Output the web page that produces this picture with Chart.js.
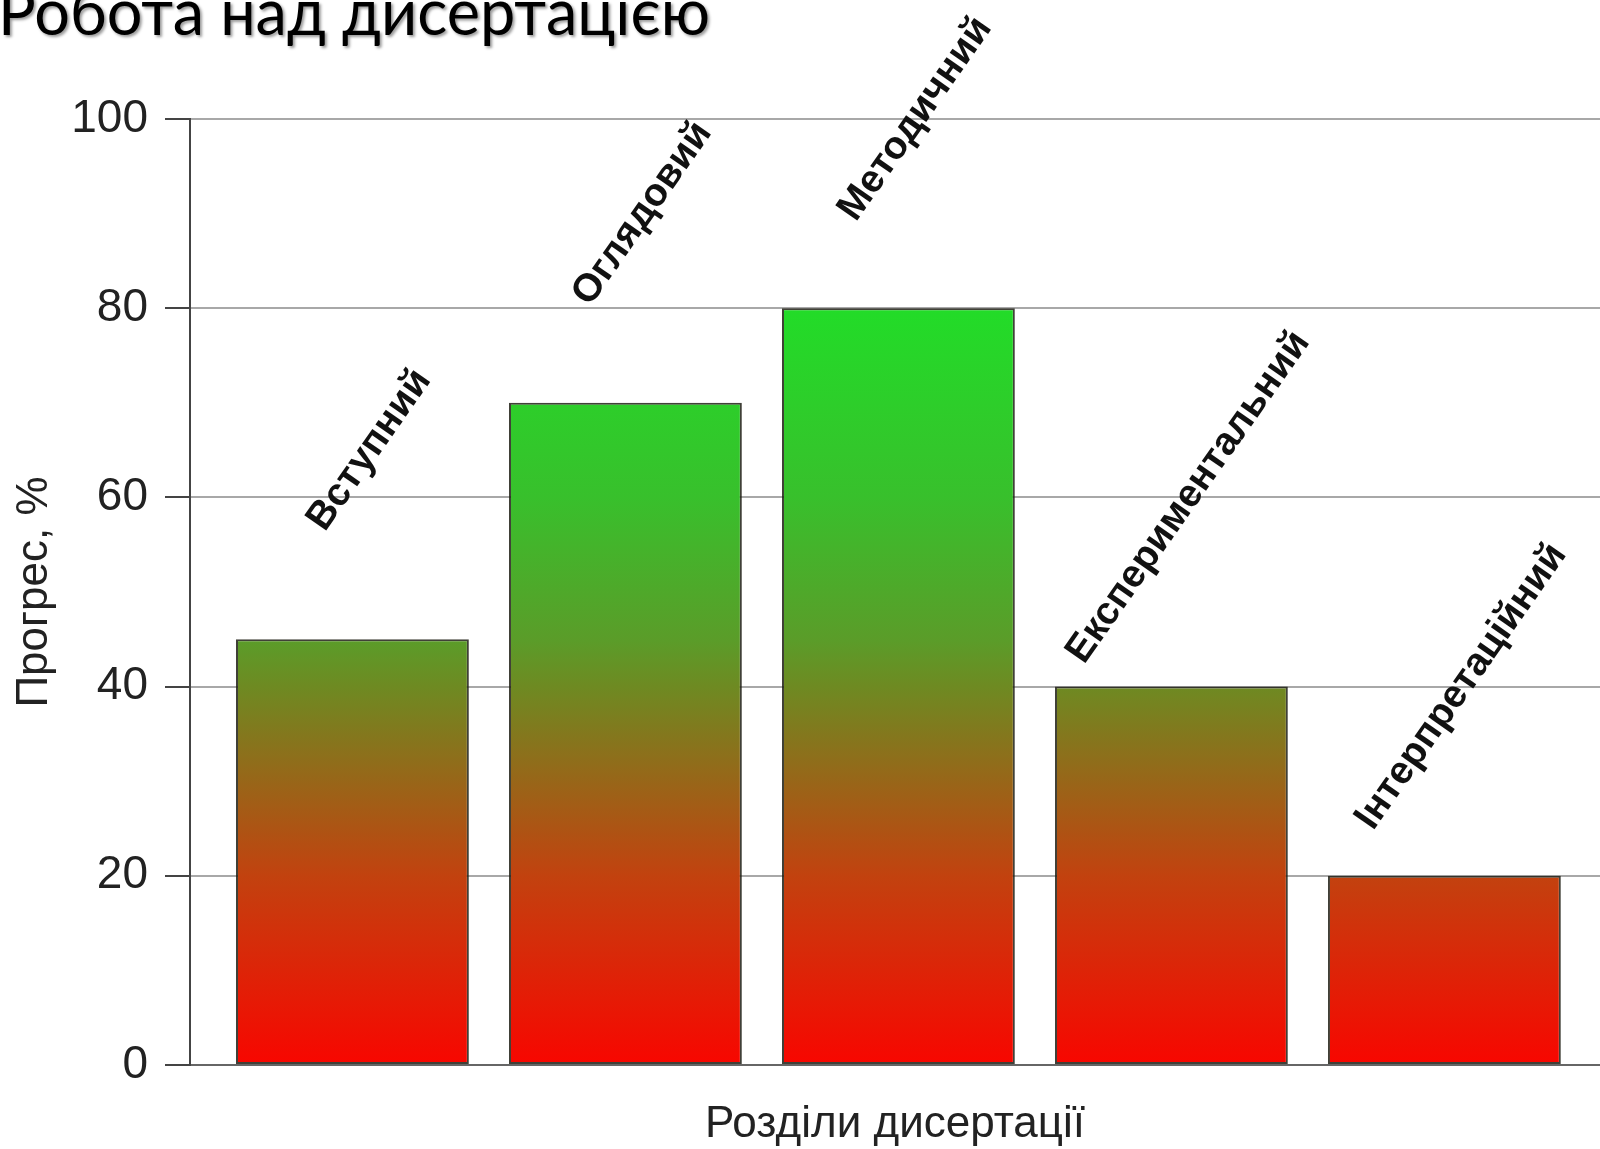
<!DOCTYPE html>
<html>
<head>
<meta charset="utf-8">
<script src="https://cdn.jsdelivr.net/npm/chart.js@4.4.1/dist/chart.umd.min.js"></script>
<style>
    html, body { margin: 0; padding: 0; background: #fff; }
    #wrap { width: 1600px; height: 1149px; position: relative; }
</style>
</head>
<body>
<div id="wrap"><canvas id="progressChart"></canvas></div>
<script>
const chartTitle = "Робота над дисертацією";
const sections = ["Вступний", "Оглядовий", "Методичний", "Експериментальний", "Інтерпретаційний"];
const progress = [45, 70, 80, 40, 20];
const yTicks = [0, 20, 40, 60, 80, 100];
const yAxisTitle = "Прогрес, %";
const xAxisTitle = "Розділи дисертації";

const sans = "'Liberation Sans', Arial, sans-serif";

// red at 0 -> green at 80, measured off the bars
const gradientStops = [
    [0, "#f80600"],
    [0.25, "#c2420f"],
    [0.5, "#6e8a22"],
    [0.56, "#5b9c29"],
    [0.75, "#38c02c"],
    [1, "#22dc28"],
];

function barGradient(context) {
    const chart = context.chart;
    if (!chart.chartArea) return gradientStops[0][1];
    const y = chart.scales.y;
    const g = chart.ctx.createLinearGradient(0, y.getPixelForValue(0), 0, y.getPixelForValue(80));
    gradientStops.forEach(function (s) { g.addColorStop(s[0], s[1]); });
    return g;
}

const slideTitle = {
    id: "slideTitle",
    afterDraw(chart) {
        const ctx = chart.ctx;
        ctx.save();
        ctx.font = "63px Lato, 'Open Sans', sans-serif";
        ctx.fillStyle = "#000";
        ctx.textAlign = "left";
        ctx.textBaseline = "alphabetic";
        ctx.shadowColor = "rgba(0,0,0,0.4)";
        ctx.shadowOffsetX = 2;
        ctx.shadowOffsetY = 2;
        ctx.shadowBlur = 3;
        ctx.fillText(chartTitle, -2, 35);
        ctx.restore();
    },
};

const sectionLabels = {
    id: "sectionLabels",
    afterDatasetsDraw(chart) {
        const ctx = chart.ctx;
        const y = chart.scales.y;
        const meta = chart.getDatasetMeta(0);
        ctx.save();
        ctx.font = "bold 39px " + sans;
        ctx.fillStyle = "#111";
        ctx.textAlign = "center";
        ctx.textBaseline = "middle";
        meta.data.forEach(function (bar, i) {
            ctx.save();
            ctx.translate(bar.x + 17, y.getPixelForValue(progress[i] + 20));
            ctx.rotate(-55 * Math.PI / 180);
            ctx.fillText(sections[i], 0, 0);
            ctx.restore();
        });
        ctx.restore();
    },
};

document.addEventListener("DOMContentLoaded", function () {
    const ctx = document.getElementById("progressChart").getContext("2d");

    new Chart(ctx, {
        type: "bar",
        data: {
            datasets: [
                {
                    label: yAxisTitle,
                    data: progress.map(function (v, i) { return { x: i + 1, y: v }; }),
                    backgroundColor: barGradient,
                    borderColor: "rgba(30,30,20,0.85)",
                    borderWidth: 2,
                    borderSkipped: false,
                    barPercentage: 0.853,
                    categoryPercentage: 1,
                },
            ],
        },
        plugins: [slideTitle, sectionLabels],
        options: {
            responsive: true,
            maintainAspectRatio: false,
            animation: false,
            layout: { padding: { top: 119, right: 0, bottom: 0, left: 0 } },
            plugins: {
                legend: { display: false },
                tooltip: { enabled: false },
            },
            scales: {
                x: {
                    type: "linear",
                    offset: false,
                    min: 0.405,
                    max: 5.57,
                    afterBuildTicks: function (scale) {
                        scale.ticks = sections.map(function (s, i) { return { value: i + 1 }; });
                    },
                    ticks: { display: false },
                    grid: { display: false },
                    border: { display: false },
                    title: {
                        display: true,
                        text: xAxisTitle,
                        color: "#222",
                        font: { family: sans, size: 44, lineHeight: 1.1 },
                        padding: { top: 0, bottom: 0 },
                    },
                    afterFit: function (scale) { scale.height = 84; },
                },
                y: {
                    min: 0,
                    max: 100,
                    afterBuildTicks: function (scale) {
                        scale.ticks = yTicks.map(function (v) { return { value: v }; });
                    },
                    ticks: {
                        color: "#222",
                        font: { family: sans, size: 46 },
                        padding: 17,
                    },
                    grid: {
                        color: function (c) { return c.tick && c.tick.value === 0 ? "#666" : "#a8a8a8"; },
                        lineWidth: 2,
                        tickLength: 25,
                        tickColor: "#444",
                        tickWidth: 2,
                    },
                    border: { display: true, color: "#444", width: 2 },
                    title: {
                        display: true,
                        text: yAxisTitle,
                        color: "#222",
                        font: { family: sans, size: 44, lineHeight: 1.1 },
                        padding: { top: 11, bottom: 0 },
                    },
                    afterFit: function (scale) { scale.width = 190; },
                },
            },
        },
    });
});
</script>
</body>
</html>
